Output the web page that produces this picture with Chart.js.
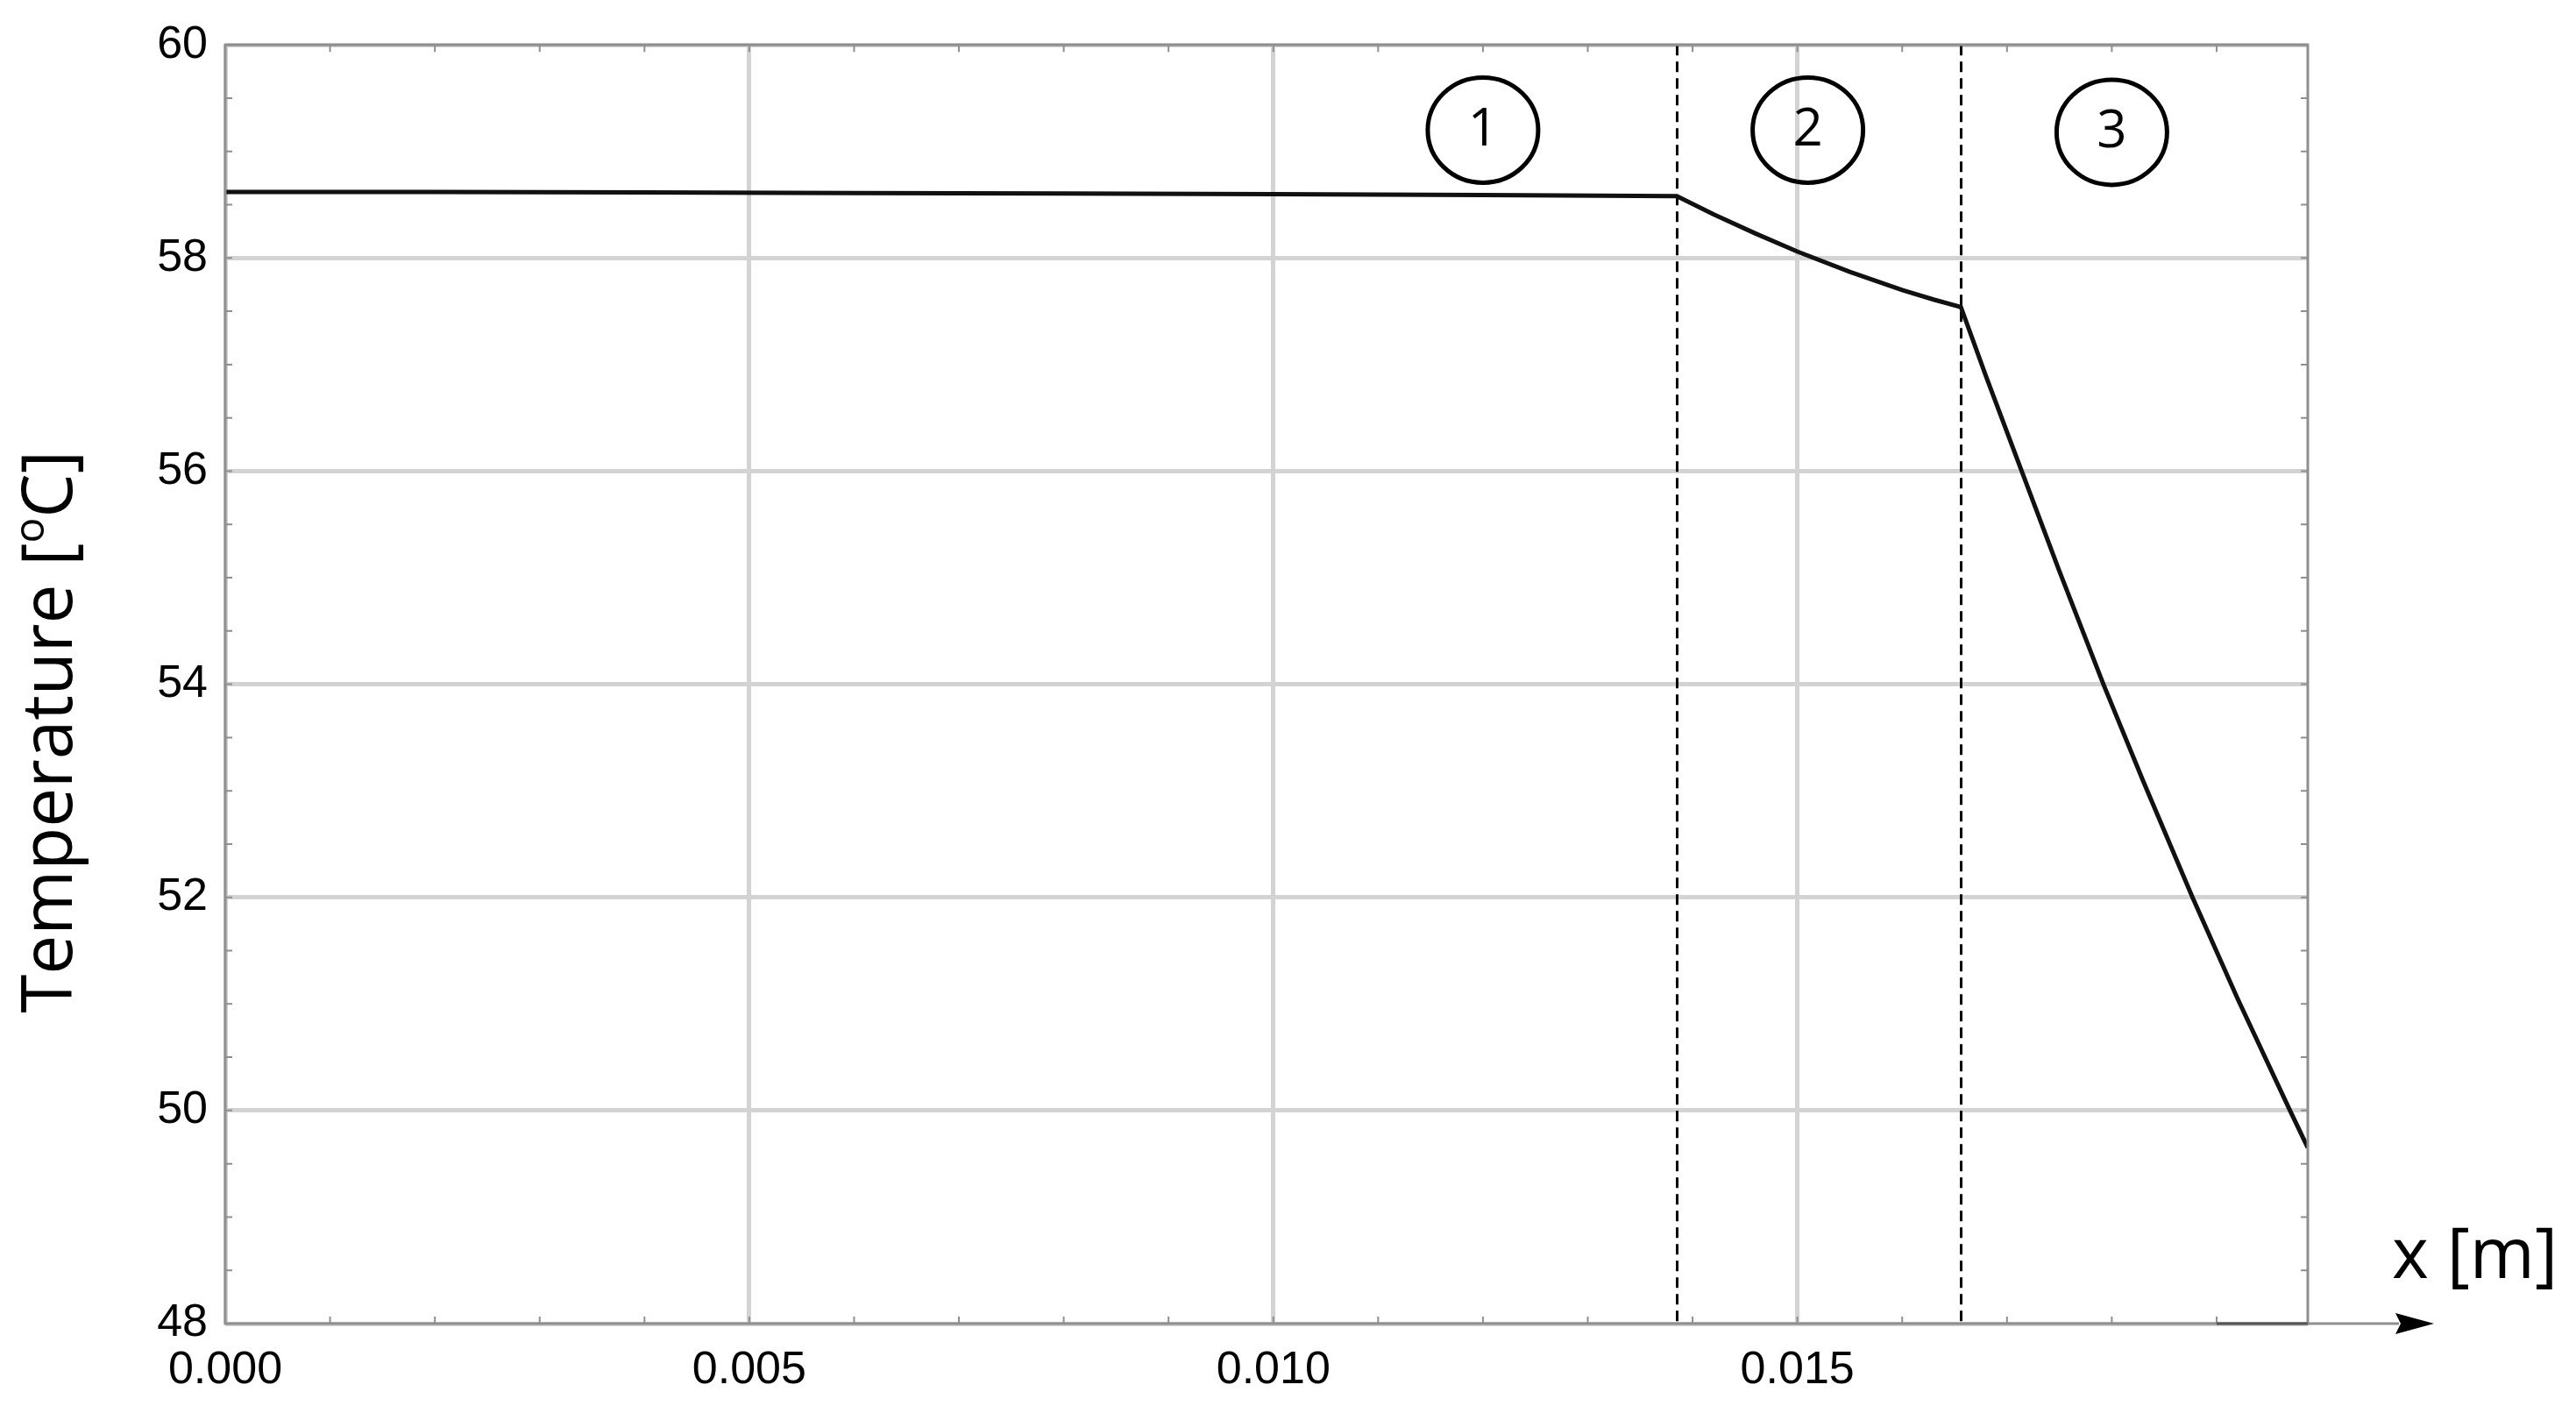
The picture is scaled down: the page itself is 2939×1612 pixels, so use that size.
<!DOCTYPE html>
<html>
<head>
<meta charset="utf-8">
<title>Temperature profile</title>
<script src="https://cdn.jsdelivr.net/npm/chart.js@4.4.1/dist/chart.umd.min.js"></script>
<style>
  html, body { margin: 0; padding: 0; background: #fff; }
  #wrap { width: 2939px; height: 1612px; }
</style>
</head>
<body>
<div id="wrap"><canvas id="myChart" width="2939" height="1612"></canvas></div>
<script>
// Temperature through the three layers
var xPos = [0, 0.002, 0.004, 0.006, 0.008, 0.010, 0.012, 0.01385,
            0.0142, 0.0146, 0.0150, 0.0155, 0.0160, 0.0163, 0.01656,
            0.0168, 0.01714, 0.0175, 0.01792, 0.0183, 0.01877, 0.0192, 0.0197, 0.01987];
var temperature = [58.62, 58.62, 58.615, 58.61, 58.605, 58.60, 58.59, 58.58,
                   58.41, 58.23, 58.06, 57.87, 57.70, 57.61, 57.54,
                   56.89, 56.00, 55.06, 54.00, 53.09, 52.00, 51.05, 50.00, 49.65];

// axes
var xTicks = [0, 0.005, 0.010, 0.015];
var yTicks = [48, 50, 52, 54, 56, 58, 60];
var xMin = 0, xMax = 0.01987;
var yMin = 48, yMax = 60;

// layer boundaries and the circled layer numbers
var layerBounds = [0.01385, 0.01656];
var layerNames = ['1', '2', '3'];
var layerLabelX = [0.0120, 0.0151, 0.0180];
var layerLabelY = [59.2, 59.2, 59.18];

var points = xPos.map(function (x, i) { return { x: x, y: temperature[i] }; });

var axisGrey = '#8f8f8f';
var labelFont = '"Open Sans", "Noto Sans", sans-serif';

// dashed lines between layers
var layerLines = {
    id: 'layerLines',
    beforeDatasetsDraw: function (chart) {
        var ctx = chart.ctx, area = chart.chartArea, xs = chart.scales.x;
        ctx.save();
        ctx.strokeStyle = '#000';
        ctx.lineWidth = 3;
        ctx.setLineDash([12, 7]);
        layerBounds.forEach(function (b) {
            var px = Math.round(xs.getPixelForValue(b)) + 0.5;
            ctx.beginPath();
            ctx.moveTo(px, area.top);
            ctx.lineTo(px, area.bottom);
            ctx.stroke();
        });
        ctx.restore();
    }
};

// frame, inner minor ticks, arrow, labels
var decorations = {
    id: 'decorations',
    afterDraw: function (chart) {
        var ctx = chart.ctx, a = chart.chartArea;
        var xs = chart.scales.x, ys = chart.scales.y;
        ctx.save();

        // frame
        ctx.strokeStyle = axisGrey;
        ctx.lineWidth = 3;
        ctx.strokeRect(a.left, a.top, a.right - a.left, a.bottom - a.top);

        // minor ticks on all four sides, pointing inwards
        ctx.lineWidth = 2;
        ctx.beginPath();
        for (var i = 0; i <= 19; i++) {
            var px = xs.getPixelForValue(i * 0.001);
            ctx.moveTo(px, a.bottom); ctx.lineTo(px, a.bottom - 8);
            ctx.moveTo(px, a.top); ctx.lineTo(px, a.top + 8);
        }
        for (var j = 0; j <= 24; j++) {
            var py = ys.getPixelForValue(yMin + j * 0.5);
            ctx.moveTo(a.left, py); ctx.lineTo(a.left + 8, py);
            ctx.moveTo(a.right, py); ctx.lineTo(a.right - 8, py);
        }
        ctx.stroke();

        // darker stub on the bottom axis near the end
        ctx.strokeStyle = '#555';
        ctx.lineWidth = 3;
        ctx.beginPath();
        ctx.moveTo(xs.getPixelForValue(0.019), a.bottom);
        ctx.lineTo(a.right, a.bottom);
        ctx.stroke();

        // x axis continues into an arrow
        ctx.strokeStyle = axisGrey;
        ctx.beginPath();
        ctx.moveTo(a.right, a.bottom);
        ctx.lineTo(a.right + 104, a.bottom);
        ctx.stroke();
        ctx.fillStyle = '#000';
        ctx.beginPath();
        ctx.moveTo(a.right + 144, a.bottom);
        ctx.lineTo(a.right + 100, a.bottom - 12);
        ctx.lineTo(a.right + 106, a.bottom);
        ctx.lineTo(a.right + 100, a.bottom + 12);
        ctx.closePath();
        ctx.fill();

        // x axis name
        ctx.font = '80px ' + labelFont;
        ctx.textAlign = 'left';
        ctx.textBaseline = 'alphabetic';
        ctx.fillText('x [m]', a.right + 96, a.bottom - 52);

        // y axis name with superscript o
        var big = '80px ' + labelFont, small = '48px ' + labelFont;
        var s1 = 'Temperature [', s2 = 'o', s3 = 'C]';
        ctx.font = big;
        var w1 = ctx.measureText(s1).width, w3 = ctx.measureText(s3).width;
        ctx.font = small;
        var w2 = ctx.measureText(s2).width;
        var total = w1 + w2 + w3;
        ctx.translate(82, 835);
        ctx.rotate(-Math.PI / 2);
        var sx = -total / 2;
        ctx.font = big;
        ctx.fillText(s1, sx, 0);
        ctx.font = small;
        ctx.fillText(s2, sx + w1, -32);
        ctx.font = big;
        ctx.fillText(s3, sx + w1 + w2, 0);
        ctx.setTransform(1, 0, 0, 1, 0, 0);

        // circled layer numbers
        ctx.lineWidth = 5;
        ctx.strokeStyle = '#000';
        ctx.font = '60px ' + labelFont;
        ctx.textAlign = 'center';
        ctx.textBaseline = 'middle';
        layerNames.forEach(function (name, k) {
            var cx = xs.getPixelForValue(layerLabelX[k]);
            var cy = ys.getPixelForValue(layerLabelY[k]);
            ctx.beginPath();
            ctx.ellipse(cx, cy, 63, 60, 0, 0, Math.PI * 2);
            ctx.stroke();
            ctx.fillText(name, cx, cy);
        });
        ctx.restore();
    }
};

var ctx = document.getElementById('myChart').getContext('2d');
var myChart = new Chart(ctx, {
    type: 'line',
    data: {
        datasets: [{
            data: points,
            borderColor: '#111',
            borderWidth: 5,
            pointRadius: 0,
            tension: 0,
            fill: false
        }]
    },
    options: {
        responsive: false,
        devicePixelRatio: 1,
        animation: false,
        events: [],
        layout: { padding: { left: 0, top: 47, right: 306, bottom: 0 } },
        plugins: { legend: { display: false }, tooltip: { enabled: false } },
        scales: {
            x: {
                type: 'linear',
                min: xMin,
                max: xMax,
                afterBuildTicks: function (scale) {
                    scale.ticks = xTicks.map(function (v) { return { value: v }; });
                },
                afterFit: function (scale) { scale.height = 102; },
                border: { display: false },
                grid: { color: '#d3d3d3', lineWidth: 5, drawTicks: false },
                ticks: {
                    padding: 22,
                    color: '#000',
                    font: { family: '"Liberation Sans", Arial, sans-serif', size: 52 },
                    maxRotation: 0,
                    callback: function (v) { return Number(v).toFixed(3); }
                }
            },
            y: {
                min: yMin,
                max: yMax,
                afterBuildTicks: function (scale) {
                    scale.ticks = yTicks.map(function (v) { return { value: v }; });
                },
                afterFit: function (scale) { scale.width = 257; },
                border: { display: false },
                grid: { color: '#d3d3d3', lineWidth: 5, drawTicks: false },
                ticks: {
                    padding: 20,
                    color: '#000',
                    font: { family: '"Liberation Sans", Arial, sans-serif', size: 52 }
                }
            }
        }
    },
    plugins: [layerLines, decorations]
});
</script>
</body>
</html>
